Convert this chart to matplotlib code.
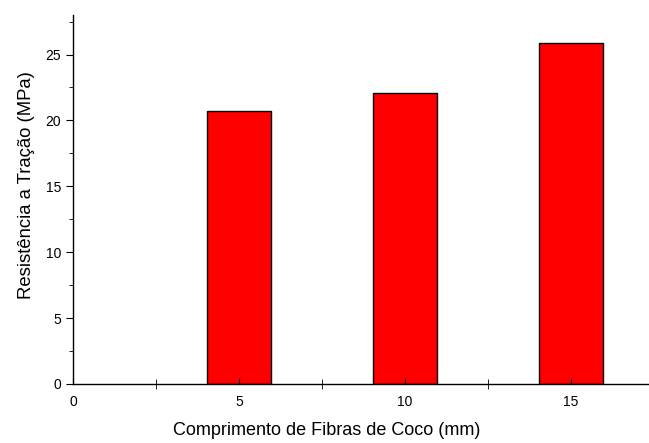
import matplotlib
matplotlib.use("Agg")
import matplotlib.pyplot as plt
from matplotlib.ticker import MultipleLocator

plt.rcParams["font.family"] = ["Liberation Sans", "DejaVu Sans"]

lengths = [5, 10, 15]
strength = [20.7, 22.1, 25.9]

fig = plt.figure(figsize=(6.49, 4.43), dpi=100)
ax = fig.add_axes([0.1125, 0.1332, 0.8875, 0.8330])

ax.bar(lengths, strength, width=1.93, color="#ff0000", edgecolor="black", linewidth=1.0)

ax.set_xlim(0, 17.35)
ax.set_ylim(0, 28)
ax.xaxis.set_major_locator(MultipleLocator(5))
ax.xaxis.set_minor_locator(MultipleLocator(2.5))
ax.yaxis.set_major_locator(MultipleLocator(5))
ax.yaxis.set_minor_locator(MultipleLocator(2.5))

for s in ("top", "right"):
    ax.spines[s].set_visible(False)
for s in ("left", "bottom"):
    ax.spines[s].set_linewidth(1.0)

ax.tick_params(axis="x", which="major", direction="in", length=4, labelsize=10, pad=8)
ax.tick_params(axis="x", which="minor", direction="inout", length=7)
ax.tick_params(axis="y", which="major", direction="out", length=5, labelsize=10)
ax.tick_params(axis="y", which="minor", direction="out", length=3)

ax.set_xlabel("Comprimento de Fibras de Coco (mm)", fontsize=13)
ax.set_ylabel("Resistência a Tração (MPa)", fontsize=13.3)
ax.xaxis.set_label_coords(0.441, -0.103)
ax.yaxis.set_label_coords(-0.066, 0.539)

fig.savefig("out.png", dpi=100)
